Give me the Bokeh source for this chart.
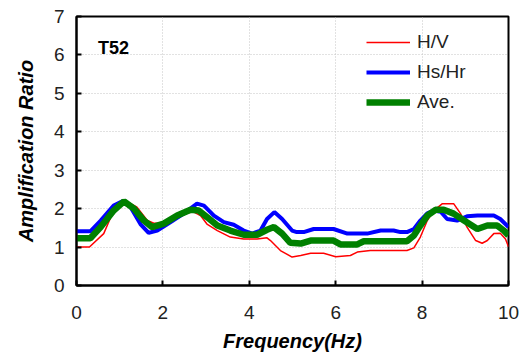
from bokeh.plotting import figure
from bokeh.models import Legend, LegendItem, Label, FixedTicker
from bokeh.embed import file_html
from bokeh.resources import INLINE

# Data
hv_x = [0.0, 0.30, 0.63, 0.86, 1.13, 1.40, 1.64, 1.79, 2.10, 2.33, 2.56, 2.72, 2.87, 3.02,
        3.26, 3.56, 3.87, 4.18, 4.41, 4.49, 4.72, 4.99, 5.19, 5.42, 5.72, 6.00, 6.34, 6.50,
        6.80, 7.65, 7.81, 7.96, 8.12, 8.27, 8.47, 8.73, 8.89, 9.04, 9.24, 9.39, 9.51, 9.66,
        9.81, 9.93, 10.0]
hv_y = [1.00, 1.00, 1.35, 1.95, 2.21, 2.04, 1.69, 1.62, 1.62, 1.78, 1.89, 1.91, 1.82, 1.60,
        1.43, 1.26, 1.21, 1.21, 1.24, 1.17, 0.91, 0.74, 0.78, 0.84, 0.84, 0.75, 0.78, 0.87,
        0.91, 0.91, 0.98, 1.26, 1.69, 1.95, 2.13, 2.13, 1.87, 1.52, 1.17, 1.10, 1.17, 1.35,
        1.36, 1.21, 1.01]

hs_x = [0.0, 0.32, 0.56, 0.86, 1.06, 1.25, 1.48, 1.67, 1.87, 2.18, 2.48, 2.79, 2.95, 3.18,
        3.41, 3.64, 3.87, 4.07, 4.26, 4.41, 4.58, 4.76, 4.99, 5.10, 5.26, 5.49, 5.95, 6.27,
        6.73, 7.04, 7.34, 7.50, 7.65, 7.81, 7.96, 8.12, 8.27, 8.43, 8.58, 8.81, 9.04, 9.28,
        9.66, 9.81, 10.0]
hs_y = [1.41, 1.41, 1.69, 2.08, 2.19, 2.04, 1.60, 1.37, 1.43, 1.65, 1.87, 2.13, 2.08, 1.82,
        1.65, 1.58, 1.43, 1.35, 1.43, 1.73, 1.91, 1.73, 1.43, 1.39, 1.39, 1.47, 1.47, 1.35,
        1.35, 1.43, 1.43, 1.39, 1.39, 1.47, 1.69, 1.88, 1.95, 1.92, 1.73, 1.69, 1.80, 1.82,
        1.82, 1.73, 1.52]

ave_x = [0.0, 0.32, 0.56, 0.86, 1.10, 1.33, 1.56, 1.75, 2.02, 2.33, 2.64, 2.83, 3.02, 3.26,
         3.56, 3.87, 4.18, 4.41, 4.57, 4.76, 4.95, 5.19, 5.42, 5.95, 6.11, 6.50, 6.65, 7.65,
         7.81, 7.96, 8.12, 8.31, 8.50, 8.73, 8.97, 9.28, 9.51, 9.74, 9.89, 10.0]
ave_y = [1.23, 1.23, 1.52, 1.95, 2.19, 2.00, 1.69, 1.52, 1.61, 1.82, 1.97, 1.95, 1.78, 1.56,
         1.43, 1.32, 1.32, 1.45, 1.52, 1.35, 1.11, 1.09, 1.17, 1.17, 1.07, 1.07, 1.15, 1.15,
         1.30, 1.56, 1.82, 1.97, 1.97, 1.87, 1.69, 1.47, 1.56, 1.56, 1.43, 1.30]

x_ticks = [0, 2, 4, 6, 8, 10]
y_ticks = [0, 1, 2, 3, 4, 5, 6, 7]
series_names = ["H/V", "Hs/Hr", "Ave."]
station = "T52"

FONT = "Liberation Sans"

p = figure(width=522, height=362, x_range=(0, 10), y_range=(0, 7),
           output_backend="svg", toolbar_location=None,
           min_border_left=76, min_border_right=14, min_border_top=16, min_border_bottom=77)
p.background_fill_color = "white"
p.border_fill_color = "white"
p.outline_line_color = "black"
p.outline_line_width = 2

r1 = p.line(hv_x, hv_y, line_color="#ff0000", line_width=1.5)
r2 = p.line(hs_x, hs_y, line_color="#0000ff", line_width=4)
r3 = p.line(ave_x, ave_y, line_color="#008000", line_width=6.5)

p.xaxis.ticker = FixedTicker(ticks=x_ticks)
p.yaxis.ticker = FixedTicker(ticks=y_ticks)
for ax in (p.xaxis, p.yaxis):
    ax.axis_line_color = "black"
    ax.axis_line_width = 2
    ax.major_tick_in = 5
    ax.major_tick_out = 0
    ax.major_tick_line_width = 2
    ax.minor_tick_line_color = None
    ax.major_label_text_font = FONT
    ax.major_label_text_font_size = "19px"
    ax.major_label_text_color = "#222222"
    ax.axis_label_text_font = FONT
    ax.axis_label_text_font_size = "20px"
    ax.axis_label_text_font_style = "bold italic"
    ax.axis_label_text_color = "black"

p.xaxis.axis_label = "Frequency(Hz)"
p.yaxis.axis_label = "Amplification Ratio"
p.xaxis.major_label_standoff = 20
p.yaxis.major_label_standoff = 12
p.xaxis.axis_label_standoff = 8
p.yaxis.axis_label_standoff = 14

for g in (p.xgrid, p.ygrid):
    g.grid_line_color = "#c4c4c4"
    g.grid_line_dash = "1 2"
    g.grid_line_width = 1

legend = Legend(items=[LegendItem(label=series_names[0], renderers=[r1]),
                       LegendItem(label=series_names[1], renderers=[r2]),
                       LegendItem(label=series_names[2], renderers=[r3])],
                location=(290, 172), orientation="vertical",
                glyph_width=44, glyph_height=22, label_height=22,
                label_standoff=7, spacing=8, padding=0, margin=0,
                border_line_color=None, background_fill_alpha=0,
                label_text_font=FONT, label_text_font_size="19px", label_text_color="#222222")
p.add_layout(legend)

p.add_layout(Label(x=0.5, y=6.19, text=station, text_font=FONT, text_font_size="18px",
                   text_font_style="bold", text_color="black", text_baseline="alphabetic"))

open("out.html", "w").write(file_html(p, INLINE))
